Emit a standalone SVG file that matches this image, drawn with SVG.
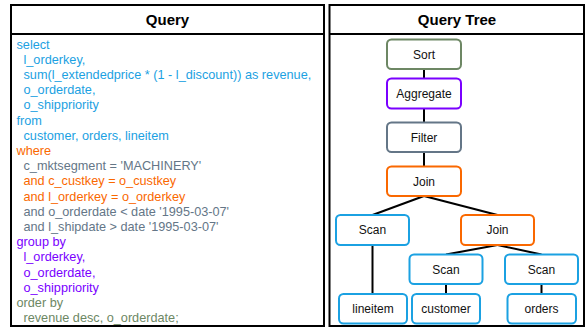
<svg xmlns="http://www.w3.org/2000/svg" width="586" height="328" viewBox="0 0 586 328">
<style>
.panel{fill:#fff;stroke:#000;stroke-width:2}
.hdr{font-family:"Liberation Sans",Arial,sans-serif;font-weight:bold;font-size:15px;fill:#000;text-anchor:middle}
.code{font-family:"Liberation Sans",Arial,sans-serif;font-size:12.7px}
.b{fill:#1ba1e2}.o{fill:#fa6800}.g{fill:#647687}.p{fill:#7a00ff}.gg{fill:#6d8764}
.node rect{fill:#fff;stroke-width:2}
.node text{font-family:"Liberation Sans",Arial,sans-serif;font-size:12px;fill:#111;text-anchor:middle}
.sort rect{stroke:#6d8764}.agg rect{stroke:#7a00ff}.filt rect{stroke:#647687}.join rect{stroke:#fa6800}.scan rect{stroke:#1ba1e2}
#connectors line{stroke:#000;stroke-width:2}
</style>
<g id="query-panel">
<rect class="panel" x="11" y="5" width="313" height="321"/>
<line x1="11" y1="34" x2="324" y2="34" stroke="#000" stroke-width="2"/>
<text class="hdr" x="167.5" y="25">Query</text>
<g class="code">
<text class="b" x="16.5" y="48.5">select</text>
<text class="b" x="23.5" y="63.7">l_orderkey,</text>
<text class="b" x="23.5" y="78.9">sum(l_extendedprice * (1 - l_discount)) as revenue,</text>
<text class="b" x="23.5" y="94.1">o_orderdate,</text>
<text class="b" x="23.5" y="109.3">o_shippriority</text>
<text class="b" x="16.5" y="124.5">from</text>
<text class="b" x="23.5" y="139.7">customer, orders, lineitem</text>
<text class="o" x="16.5" y="154.9">where</text>
<text class="g" x="23.5" y="170.1">c_mktsegment = 'MACHINERY'</text>
<text class="o" x="23.5" y="185.3">and c_custkey = o_custkey</text>
<text class="o" x="23.5" y="200.5">and l_orderkey = o_orderkey</text>
<text class="g" x="23.5" y="215.7">and o_orderdate &lt; date '1995-03-07'</text>
<text class="g" x="23.5" y="230.9">and l_shipdate &gt; date '1995-03-07'</text>
<text class="p" x="16.5" y="246.1">group by</text>
<text class="p" x="23.5" y="261.3">l_orderkey,</text>
<text class="p" x="23.5" y="276.5">o_orderdate,</text>
<text class="p" x="23.5" y="291.7">o_shippriority</text>
<text class="gg" x="16.5" y="306.9">order by</text>
<text class="gg" x="23.5" y="322.1">revenue desc, o_orderdate;</text>
</g>
</g>
<g id="tree-panel">
<rect class="panel" x="329.5" y="5" width="254.5" height="321"/>
<line x1="329.5" y1="34" x2="584" y2="34" stroke="#000" stroke-width="2"/>
<text class="hdr" x="457" y="25">Query Tree</text>
</g>
<g id="connectors">
<line x1="424" y1="69" x2="424" y2="78.5"/>
<line x1="424" y1="108.5" x2="424" y2="122.5"/>
<line x1="424" y1="152" x2="424" y2="166.5"/>
<line x1="424" y1="196" x2="372.5" y2="215"/>
<line x1="424" y1="196" x2="497.5" y2="215"/>
<line x1="497.5" y1="245" x2="446" y2="254.5"/>
<line x1="497.5" y1="245" x2="541.5" y2="254.5"/>
<line x1="372.5" y1="245" x2="372.5" y2="294"/>
<line x1="446" y1="284" x2="446" y2="294"/>
<line x1="541.5" y1="284" x2="541.5" y2="294"/>
</g>
<g id="sort" class="node sort"><rect x="387" y="39.5" width="74" height="29.5" rx="4.5"/><text x="424" y="58.5">Sort</text></g>
<g id="aggregate" class="node agg"><rect x="387" y="78.5" width="74" height="30" rx="4.5"/><text x="424" y="97.5">Aggregate</text></g>
<g id="filter" class="node filt"><rect x="387" y="122.5" width="74" height="29.5" rx="4.5"/><text x="424" y="141.5">Filter</text></g>
<g id="join1" class="node join"><rect x="387" y="166.5" width="74" height="29.5" rx="4.5"/><text x="424" y="185.5">Join</text></g>
<g id="scan1" class="node scan"><rect x="336" y="215" width="73" height="30" rx="4.5"/><text x="372.5" y="234.2">Scan</text></g>
<g id="join2" class="node join"><rect x="461" y="215" width="73" height="30" rx="4.5"/><text x="497.5" y="234.2">Join</text></g>
<g id="scan2" class="node scan"><rect x="409.5" y="254.5" width="73" height="29.5" rx="4.5"/><text x="446" y="273.5">Scan</text></g>
<g id="scan3" class="node scan"><rect x="505" y="254.5" width="73" height="29.5" rx="4.5"/><text x="541.5" y="273.5">Scan</text></g>
<g id="lineitem" class="node scan"><rect x="339" y="294" width="68" height="29.5" rx="4.5"/><text x="373" y="313">lineitem</text></g>
<g id="customer" class="node scan"><rect x="412" y="294" width="68" height="29.5" rx="4.5"/><text x="446" y="313">customer</text></g>
<g id="orders" class="node scan"><rect x="507.5" y="294" width="68.5" height="29.5" rx="4.5"/><text x="541.5" y="313">orders</text></g>
</svg>
